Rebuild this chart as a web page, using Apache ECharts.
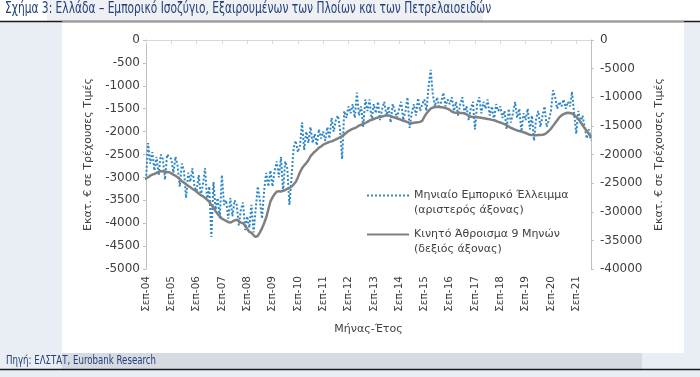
<!DOCTYPE html>
<html>
<head>
<meta charset="utf-8">
<script src="https://cdn.jsdelivr.net/npm/echarts@6/dist/echarts.min.js"></script>
<style>
  html, body { margin: 0; padding: 0; background: #e9edf4; }
  #chart { width: 700px; height: 377px; }
</style>
</head>
<body>
<div id="chart"></div>
<script>
// ονόματα μηνών για τον άξονα x
var monthNames = ['Ιαν', 'Φεβ', 'Μαρ', 'Απρ', 'Μαϊ', 'Ιουν', 'Ιουλ', 'Αυγ', 'Σεπ', 'Οκτ', 'Νοε', 'Δεκ'];
var startYear = 2004, startMonth = 8, monthCount = 212;

// μηνιαίο εμπορικό έλλειμμα (αριστερός άξονας, εκατ. €)
var monthlyDeficit = [
  -3050, -2250, -2700, -2450, -2850, -2550, -2950, -2500, -2600, -3050, -2500, -2550,
  -2600, -2900, -2550, -2750, -3200, -2700, -2850, -3450, -2900, -3100, -2800, -3200,
  -3300, -2950, -3400, -3150, -2800, -3500, -3200, -4300, -3100, -3700, -3450, -3900,
  -2950, -3600, -3500, -3900, -3450, -3850, -3500, -3600, -4050, -3700, -3550, -4150,
  -3850, -4100, -3600, -4200, -3700, -3200, -3500, -3900, -3300, -2900, -3200, -2850,
  -3200, -2850, -2650, -3000, -2550, -3300, -2650, -2800, -3600, -3000, -2350, -2200,
  -2450, -2300, -1800, -2400, -2000, -2250, -1900, -2250, -2050, -2300, -1950, -2150,
  -2000, -2200, -1900, -2150, -1700, -2000, -1750, -1650, -1950, -2600, -1550, -1700,
  -1450, -1600, -1400, -1700, -1150, -1650, -1450, -1900, -1300, -1550, -1300, -1750,
  -1400, -1600, -1350, -1750, -1500, -1350, -1650, -1450, -1800, -1400, -1550, -1700,
  -1500, -1350, -1750, -1550, -1250, -1920, -1600, -1400, -1650, -1270, -1550, -1400,
  -1300, -1550, -1000, -650, -1200, -1450, -1250, -1450, -1350, -1150, -1450, -1300,
  -1400, -1250, -1550, -1350, -1650, -1400, -1250, -1600, -1450, -1750, -1500, -1350,
  -1950, -1400, -1250, -1600, -1350, -1500, -1300, -1650, -1450, -1750, -1400, -1550,
  -1450, -1700, -1550, -1950, -1500, -1800, -1600, -1350, -1700, -1500, -2000, -1600,
  -1750, -1500, -1950, -1650, -2200, -1700, -1550, -1900, -1650, -1450, -1900, -1750,
  -1550, -1100, -1250, -1500, -1350, -1450, -1300, -1500, -1350, -1450, -1130, -1600,
  -2050, -1550, -1800, -1650, -1900, -2150, -1950, -2200
];

// κινητό άθροισμα 9 μηνών (δεξιός άξονας, εκατ. €)
var rollingSum9 = [
  -24100, -24000, -23700, -23500, -23400, -23200, -23100, -22900, -22950, -23000, -23050, -23100,
  -23300, -23550, -23700, -24000, -24300, -24700, -24900, -25200, -25500, -25700, -26000, -26200,
  -26500, -26800, -27100, -27300, -27600, -27900, -28300, -28800, -29300, -29900, -30400, -30800,
  -31200, -31400, -31600, -31800, -31900, -31700, -31500, -31400, -31600, -31900, -32000, -32400,
  -33000, -33500, -33700, -34100, -34400, -34200, -33600, -32900, -32000, -31000, -29600, -28200,
  -27500, -26900, -26500, -26400, -26450, -26350, -26200, -26000, -25850, -25600, -25200, -24800,
  -24000, -23100, -22400, -21900, -21500, -21000, -20300, -19900, -19500, -19200, -18800, -18600,
  -18300, -18100, -17950, -17800, -17700, -17550, -17350, -17200, -17000, -16800, -16500, -16200,
  -15900, -15700, -15500, -15400, -15200, -14950, -14800, -14650, -14500, -14300, -14050, -13950,
  -13800, -13650, -13550, -13450, -13350, -13250, -13150, -13200, -13300, -13450, -13550, -13700,
  -13800, -13950, -14100, -14200, -14350, -14500, -14550, -14450, -14400, -14350, -14300, -14100,
  -13400, -12800, -12400, -12000, -11800, -11700, -11650, -11700, -11750, -11800, -11900, -12000,
  -12200, -12500, -12650, -12700, -12700, -12750, -12750, -12850, -13000, -13200, -13400, -13450,
  -13450, -13500, -13550, -13600, -13650, -13700, -13800, -13850, -13950, -14000, -14150, -14300,
  -14400, -14550, -14700, -14900, -15100, -15350, -15500, -15650, -15800, -15900, -16000, -16100,
  -16250, -16400, -16550, -16600, -16600, -16650, -16600, -16600, -16550, -16450, -16200, -15900,
  -15500, -15000, -14500, -14000, -13500, -13150, -12950, -12800, -12700, -12750, -12850, -13100,
  -13400, -13800, -14300, -14900, -15400, -15900, -16400, -16900
];

var seriesNames = [
  'Μηνιαίο Εμπορικό Έλλειμμα\n(αριστερός άξονας)',
  'Κινητό Άθροισμα 9 Μηνών\n(δεξιός άξονας)'
];

var categories = [];
for (var i = 0; i < monthCount; i++) {
  var m = (startMonth + i) % 12;
  var y = startYear + Math.floor((startMonth + i) / 12);
  categories.push(monthNames[m] + '-' + String(y % 100).padStart(2, '0'));
}

var axisFont = 'DejaVu Sans';
var textColor = '#404040';
var axisGray = '#bfbfbf';
var plain = function (v) { return String(v); };

// το εικονίδιο του υπομνήματος στο ύψος της πρώτης γραμμής
var legendBase = {
  orient: 'vertical', left: 366, padding: 0,
  itemWidth: 42, itemHeight: 10,
  itemStyle: { opacity: 0 },
  formatter: function (name) { return '\n' + name; },
  textStyle: { fontFamily: axisFont, fontSize: 11, color: textColor, lineHeight: 15 }
};

var chart = echarts.init(document.getElementById('chart'));
chart.setOption({
  backgroundColor: '#e9edf4',
  animation: false,
  graphic: [
    { type: 'rect', z: -10, shape: { x: 0, y: 0, width: 700, height: 21 }, style: { fill: '#ffffff' } },
    { type: 'rect', z: -9, shape: { x: 47, y: 0, width: 436, height: 21 }, style: { fill: '#eef0f3' } },
    { type: 'rect', z: -10, shape: { x: 62, y: 22, width: 622, height: 331 }, style: { fill: '#ffffff' } },
    { type: 'rect', z: -10, shape: { x: 62, y: 353, width: 580, height: 16 }, style: { fill: '#d6dbe2' } },
    { type: 'line', z: -8, shape: { x1: 0, y1: 21.5, x2: 700, y2: 21.5 }, style: { stroke: '#1a1a1a', lineWidth: 1.5 } },
    { type: 'line', z: -7, shape: { x1: 62, y1: 21.5, x2: 684, y2: 21.5 }, style: { stroke: '#9a9a9a', lineWidth: 1.5 } },
    { type: 'line', z: -8, shape: { x1: 0, y1: 369.5, x2: 700, y2: 369.5 }, style: { stroke: '#1a1a1a', lineWidth: 1.5 } },
    {
      type: 'text', x: 5, y: 2, scaleX: 0.79,
      style: {
        text: 'Σχήμα 3: Ελλάδα – Εμπορικό Ισοζύγιο, Εξαιρουμένων των Πλοίων και των Πετρελαιοειδών',
        font: '15px "DejaVu Sans Condensed", "DejaVu Sans", sans-serif',
        fill: '#22407a'
      }
    },
    {
      type: 'text', x: 6, y: 355, scaleX: 0.8,
      style: {
        text: 'Πηγή: ΕΛΣΤΑΤ, Eurobank Research',
        font: '12px "DejaVu Sans Condensed", "DejaVu Sans", sans-serif',
        fill: '#22407a'
      }
    }
  ],
  grid: { left: 146, right: 109, top: 40, bottom: 108 },
  legend: [
    Object.assign({ data: [seriesNames[0]], top: 173 }, legendBase),
    Object.assign({ data: [seriesNames[1]], top: 212 }, legendBase)
  ],
  xAxis: [
    {
      type: 'category', data: categories, position: 'bottom', boundaryGap: false,
      name: 'Μήνας-Έτος', nameLocation: 'middle', nameGap: 55,
      nameTextStyle: { fontFamily: axisFont, fontSize: 11, color: textColor },
      axisLine: { show: false }, axisTick: { show: false },
      axisLabel: { interval: 11, rotate: 90, margin: 7, fontFamily: axisFont, fontSize: 10.5, color: textColor }
    },
    {
      type: 'category', data: categories, position: 'top', boundaryGap: false,
      axisLine: { show: true, lineStyle: { color: '#d9d9d9', width: 1 } },
      axisTick: { show: true, interval: 11, inside: true, length: 4, lineStyle: { color: '#d9d9d9' } },
      axisLabel: { show: false }
    }
  ],
  yAxis: [
    {
      type: 'value', min: -5000, max: 0, interval: 500, position: 'left',
      name: 'Εκατ. € σε Τρέχουσες Τιμές', nameLocation: 'middle', nameGap: 52, nameRotate: 90,
      nameTextStyle: { fontFamily: axisFont, fontSize: 11, color: textColor },
      axisLine: { show: true, lineStyle: { color: axisGray } },
      axisTick: { show: true, length: 3, lineStyle: { color: axisGray } },
      axisLabel: { margin: 6, fontFamily: axisFont, fontSize: 12, color: textColor, formatter: plain },
      splitLine: { show: false }
    },
    {
      type: 'value', min: -40000, max: 0, interval: 5000, position: 'right',
      name: 'Εκατ. € σε Τρέχουσες Τιμές', nameLocation: 'middle', nameGap: 55, nameRotate: 90,
      nameTextStyle: { fontFamily: axisFont, fontSize: 11, color: textColor },
      axisLine: { show: true, lineStyle: { color: axisGray } },
      axisTick: { show: true, length: 3, lineStyle: { color: axisGray } },
      axisLabel: { margin: 9, fontFamily: axisFont, fontSize: 12, color: textColor, formatter: plain },
      splitLine: { show: false }
    }
  ],
  series: [
    {
      name: seriesNames[0], type: 'line', data: monthlyDeficit,
      xAxisIndex: 0, yAxisIndex: 0, symbol: 'none',
      lineStyle: { color: '#2f86c6', width: 2, type: [2, 2] },
      itemStyle: { color: '#2f86c6' }
    },
    {
      name: seriesNames[1], type: 'line', data: rollingSum9,
      xAxisIndex: 0, yAxisIndex: 1, symbol: 'none',
      lineStyle: { color: '#808080', width: 2.5 },
      itemStyle: { color: '#808080' }
    }
  ]
});
</script>
</body>
</html>
